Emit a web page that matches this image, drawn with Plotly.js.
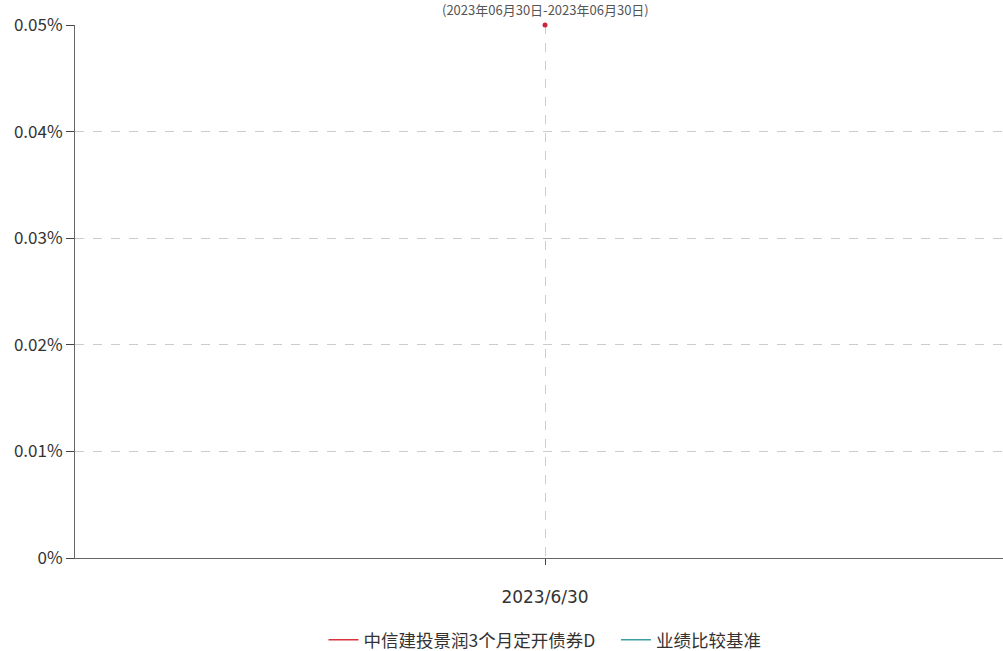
<!DOCTYPE html>
<html>
<head>
<meta charset="utf-8">
<script src="https://cdn.plot.ly/plotly-3.0.1.min.js"></script>
<style>
html,body{margin:0;padding:0;overflow:hidden;background:#fff;}
#chart{width:1015px;height:651px;}
</style>
</head>
<body>
<div id="chart"></div>
<script>
const dates = ['2023/6/30'];
const fundName = '中信建投景润3个月定开债券D';
const benchName = '业绩比较基准';
const fundValues = [0.05];
const benchValues = [0];
const yTicks = [0, 0.01, 0.02, 0.03, 0.04, 0.05];
const yTickLabels = ['0%', '0.01%', '0.02%', '0.03%', '0.04%', '0.05%'];
const subtitle = '(2023年06月30日-2023年06月30日)';

const traces = [
  {
    x: dates, y: fundValues, name: fundName + '    ', type: 'scatter', mode: 'lines',
    line: {color: '#d9323c', width: 1.5}
  },
  {
    x: dates, y: benchValues, name: benchName, type: 'scatter', mode: 'lines',
    line: {color: '#3a9ea5', width: 1.5}
  },
  {
    x: dates, y: fundValues, name: fundName, type: 'scatter', mode: 'markers',
    showlegend: false, cliponaxis: false,
    marker: {color: '#c8283a', size: 5}
  }
];

const layout = {
  width: 1015, height: 651,
  margin: {l: 75, r: 0, t: 25, b: 93},
  paper_bgcolor: '#fff', plot_bgcolor: '#fff',
  showlegend: true,
  font: {family: 'Noto Sans CJK SC, DejaVu Sans, sans-serif', color: '#333'},
  annotations: [{
    text: subtitle, showarrow: false,
    xref: 'paper', yref: 'paper', x: 0.5, y: 1, xanchor: 'center', yanchor: 'bottom',
    yshift: 4,
    font: {family: 'Noto Sans CJK SC, sans-serif', size: 13, color: '#555'}
  }],
  xaxis: {
    type: 'category',
    range: [-0.5, 0.5],
    showgrid: true, gridcolor: '#cccccc', griddash: 'dash', gridwidth: 1,
    showline: true, linecolor: '#666', linewidth: 1,
    ticks: 'outside', ticklen: 6, tickcolor: '#444', tickwidth: 1,
    ticklabelstandoff: 18,
    tickfont: {family: 'DejaVu Sans, sans-serif', size: 17, color: '#333'},
    zeroline: false, fixedrange: true
  },
  yaxis: {
    range: [0, 0.05],
    tickvals: yTicks, ticktext: yTickLabels,
    showgrid: true, gridcolor: '#cccccc', griddash: 'dash', gridwidth: 1,
    showline: true, linecolor: '#666', linewidth: 1,
    ticks: 'outside', ticklen: 8, tickcolor: '#444', tickwidth: 1,
    tickfont: {family: 'Noto Sans CJK SC, sans-serif', size: 17, color: '#333'},
    zeroline: false, fixedrange: true
  },
  legend: {
    orientation: 'h', x: 0.5, xanchor: 'center', xref: 'paper',
    y: 0.017, yanchor: 'middle', yref: 'container',
    font: {family: 'Noto Sans CJK SC, sans-serif', size: 17.5, color: '#333'},
    tracegroupgap: 0
  }
};

Plotly.newPlot('chart', traces, layout, {displayModeBar: false, staticPlot: true});
</script>
</body>
</html>
